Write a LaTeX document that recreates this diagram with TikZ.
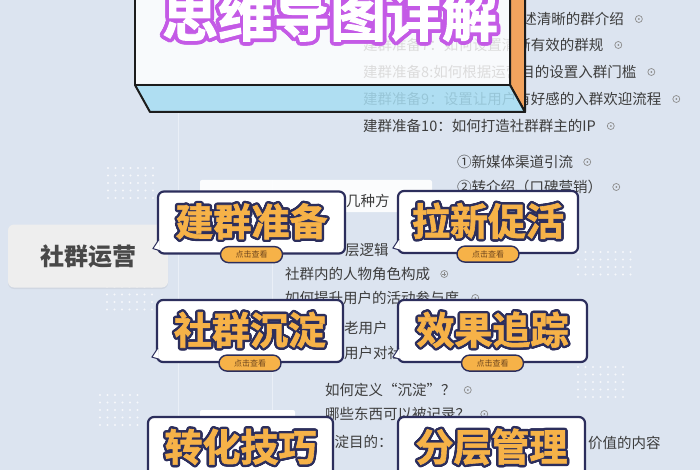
\documentclass[tikz,border=0pt]{standalone}
\usepackage{fontspec}
\setmainfont{Noto Sans CJK SC}
\newfontfamily\heavycjk{Noto Sans CJK SC}[UprightFont=* Bold, FakeBold=1.6]
\usepackage{contour}
\usetikzlibrary{positioning,shadows}
\definecolor{bgBlue}{RGB}{220,228,240}
\definecolor{rowGray}{RGB}{60,60,60}
\definecolor{markGray}{RGB}{140,140,140}
\definecolor{tagNavy}{RGB}{44,46,92}
\definecolor{tagOrange}{RGB}{246,178,72}
\definecolor{pillText}{RGB}{110,70,30}
\definecolor{titlePurple}{RGB}{196,90,230}
\definecolor{slabBlue}{RGB}{168,222,243}
\definecolor{slabOrange}{RGB}{242,163,94}
\definecolor{boxEdge}{RGB}{28,28,28}
\definecolor{paleLine}{RGB}{234,239,247}
\definecolor{rootGray}{RGB}{238,238,238}
\definecolor{rootText}{RGB}{72,72,72}

\newcommand\pxsize[1]{\fontsize{#1}{#1}\selectfont}
\newcommand\tagtext[1]{\heavycjk\pxsize{38}\contourlength{2.4pt}\contour{tagNavy}{\textcolor{tagOrange}{#1}}}
% white dot patches: x0, y0, columns, rows
\newcommand\dotgrid[4]{%
  \foreach \i in {1,...,#3}{\foreach \j in {1,...,#4}{
    \fill[white, opacity=0.75] ({#1+(\i-1)*7.5},{#2+(\j-1)*7.5}) circle (1.1pt);}}}
% little speech tail on the left of a tag
\newcommand\tagtail[1]{%
  \filldraw[draw=tagNavy, fill=white, line width=1pt, line join=round]
    ([shift={(2,-15)}]#1.south west) -- ([shift={(-4,-6)}]#1.south west) -- ([shift={(3,-4)}]#1.south west);}

\tikzset{
  rowtext/.style={anchor=west, inner sep=0pt, text=rowGray, font=\pxsize{14.5}},
  foldmark/.style={circle, draw=markGray, line width=0.7pt, minimum size=7pt, inner sep=0pt,
    path picture={\fill[markGray] (path picture bounding box.center) circle (1pt);}},
  foldplus/.style={circle, draw=markGray, line width=0.7pt, minimum size=7pt, inner sep=0pt,
    path picture={\draw[markGray, line width=0.6pt]
      ([xshift=-2pt]path picture bounding box.center) -- ([xshift=2pt]path picture bounding box.center)
      ([yshift=-2pt]path picture bounding box.center) -- ([yshift=2pt]path picture bounding box.center);}},
  tagbox/.style={draw=tagNavy, line width=2.2pt, fill=white, rounded corners=6pt, inner sep=0pt, minimum height=62pt},
  clickpill/.style={draw=tagNavy, line width=1.4pt, fill=tagOrange, rounded corners=8pt,
    minimum width=62pt, minimum height=16pt, inner sep=0pt, font=\pxsize{8}, text=pillText},
  rootbox/.style={fill=rootGray, rounded corners=6pt, minimum width=160pt, minimum height=63pt,
    font=\pxsize{24}\bfseries, text=rootText,
    drop shadow={opacity=0.12, shadow xshift=0pt, shadow yshift=-1.5pt}},
}

\begin{document}
\begin{tikzpicture}[x=1pt, y=-1pt]
  \useasboundingbox (0,0) rectangle (700,470);
  \clip (0,0) rectangle (700,470);
  \fill[bgBlue] (0,0) rectangle (700,470);

  % decoration
  \dotgrid{108}{168}{7}{5}
  \dotgrid{107}{287}{7}{4}
  \dotgrid{100}{395}{6}{5}
  \dotgrid{578}{367}{7}{5}
  \dotgrid{578}{252}{8}{4}
  \draw[paleLine, line width=1pt] (178,112) -- (178,470);
  \draw[paleLine, line width=1pt] (272,180) -- (272,470);
  \fill[white, opacity=0.9, rounded corners=2pt] (200,180) rectangle (432,212);
  \fill[white, rounded corners=2pt] (200,410) rectangle (295,440);

  % mind map rows
  \node[rowtext, anchor=east] (prep6) at (624,19) {述清晰的群介绍};
  \node[rowtext] (prep7) at (363,45) {建群准备7：如何设置清晰有效的群规};
  \node[rowtext] (prep8) at (363,72) {建群准备8:如何根据运营目的设置入群门槛};
  \node[rowtext] (prep9) at (363,99) {建群准备9：设置让用户有好感的入群欢迎流程};
  \node[rowtext] (prep10) at (363,126) {建群准备10：如何打造社群群主的IP};
  \node[foldmark, right=11pt of prep6] (prep6-m) {};
  \node[foldmark, right=11pt of prep7] (prep7-m) {};
  \node[foldmark, right=11pt of prep8] (prep8-m) {};
  \node[foldmark, right=11pt of prep9] (prep9-m) {};
  \node[foldmark, right=11pt of prep10] (prep10-m) {};

  \node[rowtext] (newmedia) at (457,162) {①新媒体渠道引流};
  \node[rowtext] (referral) at (457,187) {②转介绍（口碑营销）};
  \node[foldmark, right=10pt of newmedia] (newmedia-m) {};
  \node[foldmark, right=10pt of referral] (referral-m) {};

  \node[rowtext] (ways) at (346,201) {几种方};
  \node[rowtext] (logic) at (345,250) {层逻辑};
  \node[rowtext] (roles) at (285,274) {社群内的人物角色构成};
  \node[foldplus, right=10pt of roles] (roles-m) {};
  \node[rowtext] (engage) at (285,298) {如何提升用户的活动参与度};
  \node[foldmark, right=12pt of engage] (engage-m) {};
  \node[rowtext] (olduser) at (344,328) {老用户};
  \node[rowtext] (usersense) at (344,353) {用户对社};
  \node[rowtext] (define) at (325,390) {如何定义“沉淀”？};
  \node[foldmark, right=8pt of define] (define-m) {};
  \node[rowtext] (record) at (325,414) {哪些东西可以被记录？};
  \node[foldmark, right=10pt of record] (record-m) {};
  \node[rowtext] (goal) at (320,442) {沉淀目的：};
  \node[rowtext] (goalvalue) at (588,443) {价值的内容};

  % root
  \node[rootbox] (root) at (88,256) {社群运营};

  % 3d title board
  \filldraw[draw=boxEdge, fill=slabOrange, line width=2pt, line join=round]
    (510,-20) -- (510,85) -- (525,112) -- (525,-20) -- cycle;
  \filldraw[draw=boxEdge, fill=slabBlue, fill opacity=0.85, line width=2pt, line join=round]
    (135,85) -- (510,85) -- (525,112) -- (150,112) -- cycle;
  \filldraw[draw=boxEdge, fill=white, fill opacity=0.82, line width=2pt, line join=round]
    (135,-20) rectangle (510,85);
  \node[font=\heavycjk\pxsize{56}, inner sep=0pt] (title) at (330,17)
    {\contourlength{3.8pt}\contour{titlePurple}{\textcolor{white}{思维导图详解}}};

  % topic tags
  \node[tagbox, minimum width=187pt] (prep) at (251.5,222.5) {\tagtext{建群准备}};
  \node[clickpill] (prep-btn) at (prep.south) {点击查看};
  \tagtail{prep}
  \node[tagbox, minimum width=180pt] (grow) at (488,222) {\tagtext{拉新促活}};
  \node[clickpill] (grow-btn) at (grow.south) {点击查看};
  \tagtail{grow}
  \node[tagbox, minimum width=186pt] (settle) at (250,331) {\tagtext{社群沉淀}};
  \node[clickpill] (settle-btn) at (settle.south) {点击查看};
  \tagtail{settle}
  \node[tagbox, minimum width=189pt] (track) at (492.5,331) {\tagtext{效果追踪}};
  \node[clickpill] (track-btn) at (track.south) {点击查看};
  \tagtail{track}
  \node[tagbox, minimum width=185pt] (convert) at (240.5,448) {\tagtext{转化技巧}};
  \node[tagbox, minimum width=187pt] (layer) at (491.5,448) {\tagtext{分层管理}};
\end{tikzpicture}
\end{document}
